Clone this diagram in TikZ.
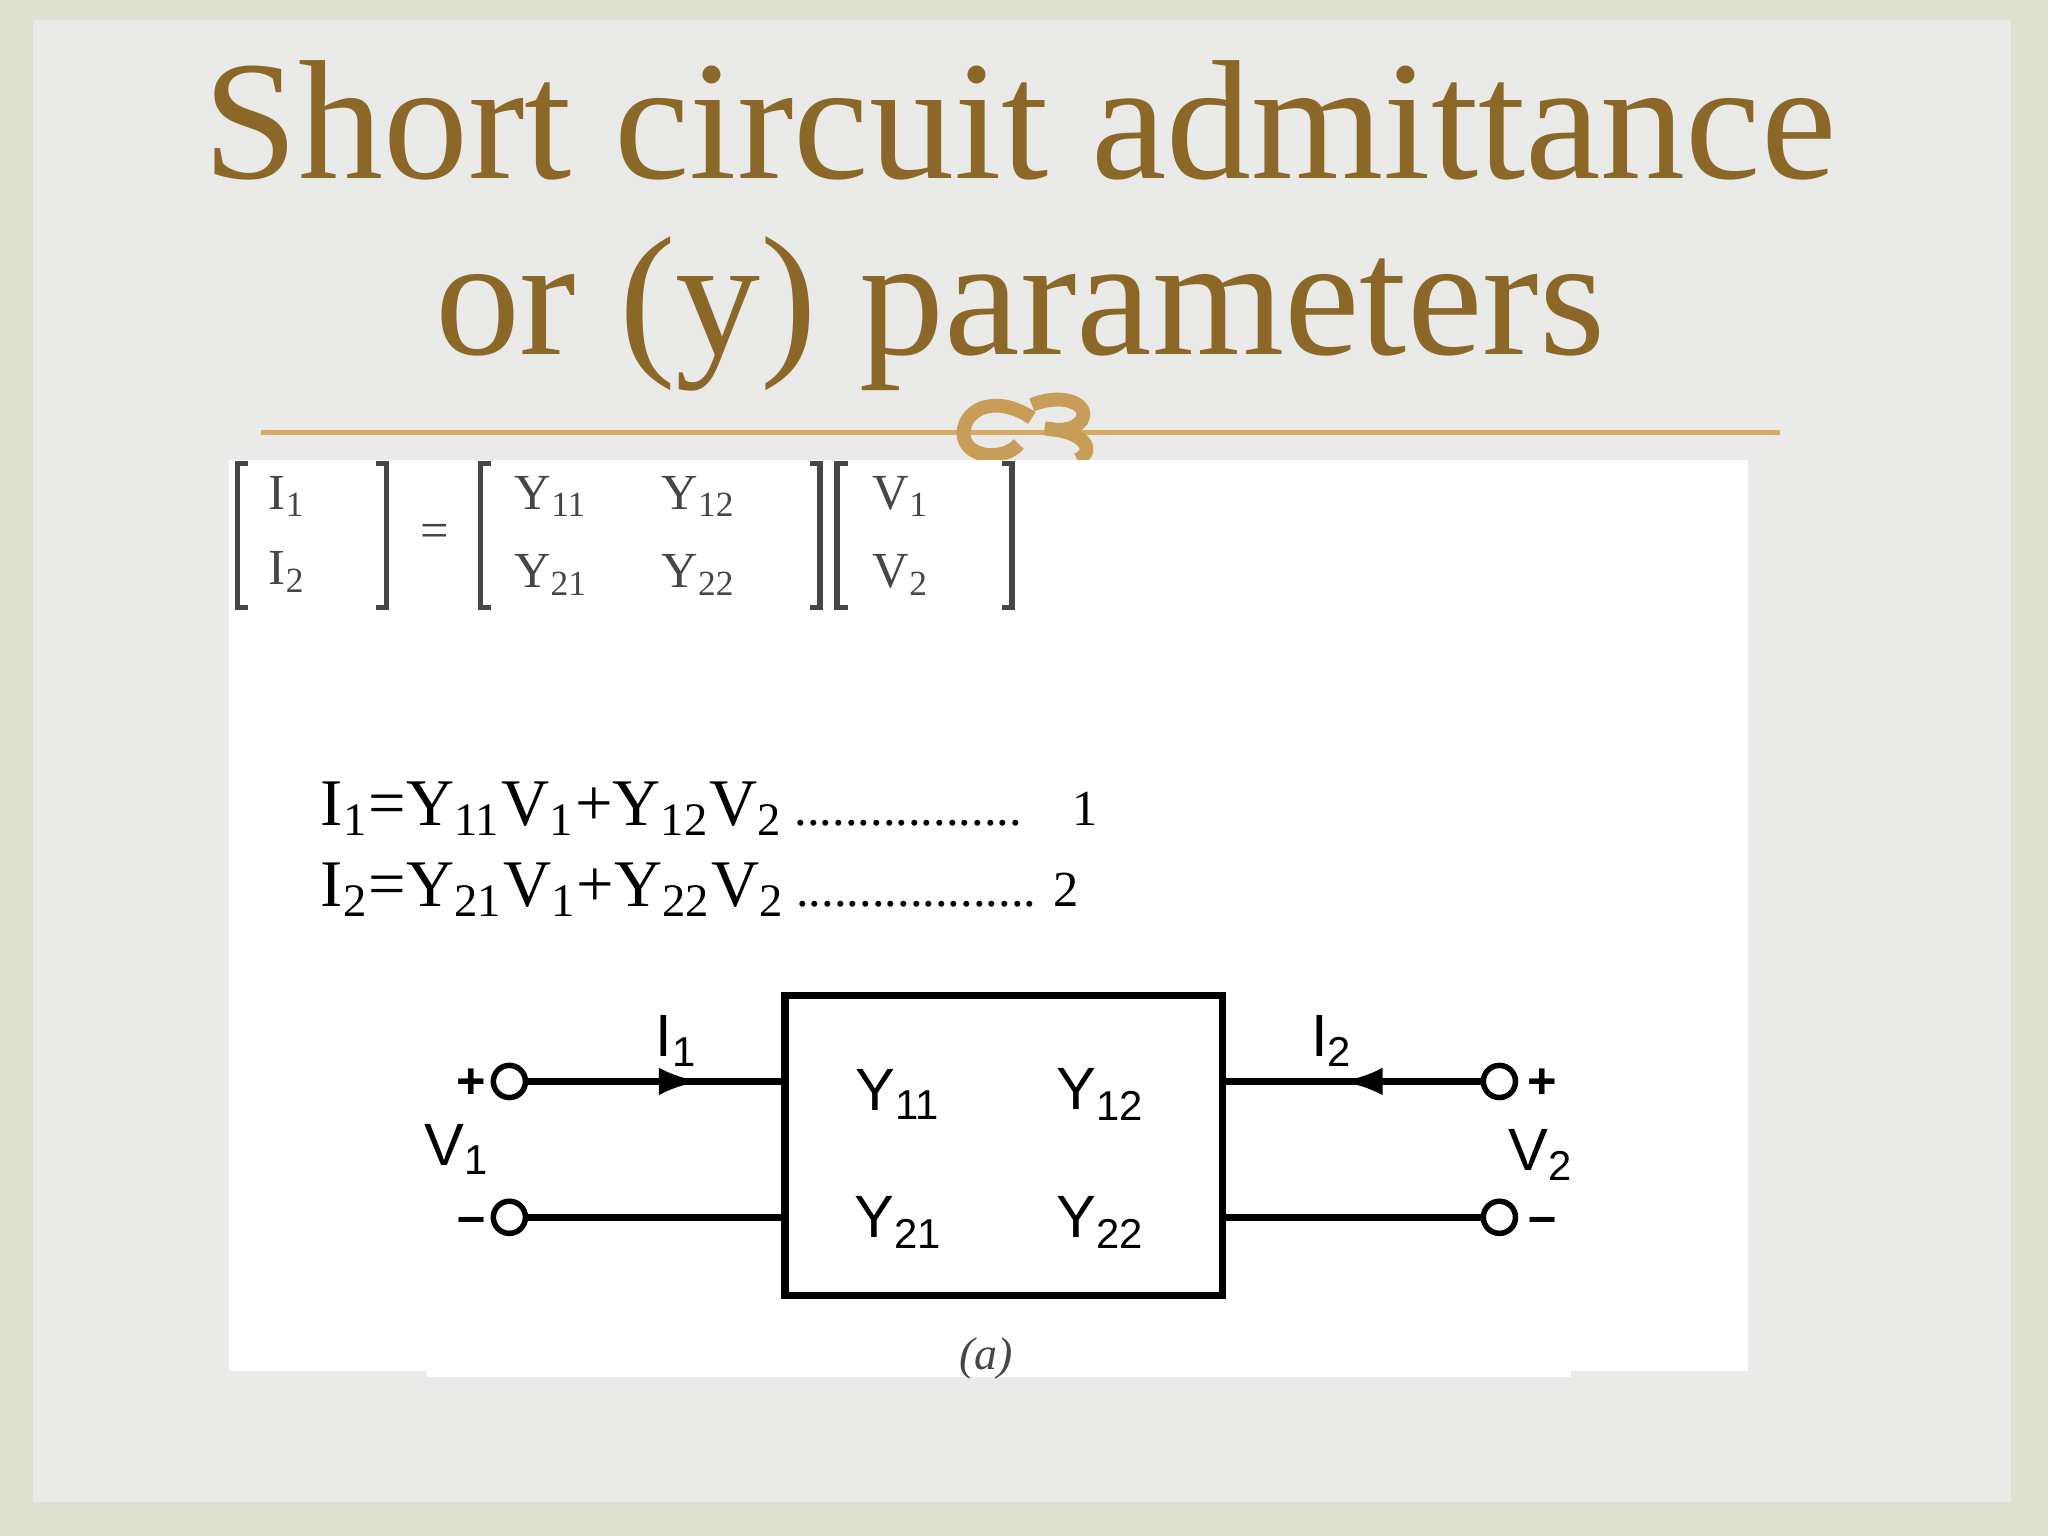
\documentclass[tikz,border=0pt]{standalone}
\usepackage{fontspec}
\setmainfont{Liberation Serif}
\setsansfont{Liberation Sans}
\usetikzlibrary{arrows.meta,decorations.markings}
\definecolor{bgout}{RGB}{222,224,210}
\definecolor{bgin}{RGB}{234,234,232}
\definecolor{gold}{RGB}{140,104,40}
\definecolor{rule}{RGB}{214,170,100}
\definecolor{mat}{RGB}{70,70,70}
\newcommand{\ssb}[1]{\textsubscript{#1}}
\tikzset{
 wire/.style={line width=1.6pt,black},
 term/.style={circle,draw,line width=1.2pt,fill=white,inner sep=0pt,minimum size=7pt},
 clab/.style={font=\sffamily\fontsize{13}{13}\selectfont,inner sep=1pt},
 sgn/.style={font=\sffamily\bfseries\fontsize{11}{11}\selectfont,inner sep=0pt},
 brk/.style={line width=1.2pt,mat},
 mtx/.style={font=\fontsize{11}{11}\selectfont,text=mat},
 eq/.style={font=\fontsize{14.5}{14.5}\selectfont,anchor=base west,inner sep=0pt},
 ttl/.style={font=\fontsize{37}{40}\selectfont,text=gold},
 midarrow/.style={postaction={decorate},decoration={markings,mark=at position #1 with {\arrow{Latex[length=9pt,width=6pt]}}}}
}
\begin{document}
\begin{tikzpicture}[x={(0.01cm,0)},y={(0,-0.01cm)}]
\fill[bgout] (0,0) rectangle (1568,1176);
\fill[bgin] (25,15) rectangle (1540,1150);
\useasboundingbox (0,0) rectangle (1568,1176);
% title
\node[ttl] (t1) at (781,92) {Short circuit admittance};
\node[ttl] (t2) at (781,240) {or (y) parameters};
\draw[rule,line width=1.2pt] (200,331) -- (1363,331);
% ornament
\begin{scope}[rule!80!gold,line width=3pt]
\draw (790,320) .. controls (760,300) and (735,315) .. (738,335) .. controls (742,352) and (770,352) .. (780,340);
\draw (790,310) .. controls (815,300) and (835,310) .. (828,322) .. controls (822,330) and (810,330) .. (800,328)
 .. controls (830,330) and (840,345) .. (825,352);
\end{scope}
% white panel
\fill[white] (175,352) rectangle (1338,1050);
\fill[white] (327,1040) rectangle (1203,1054);
% matrix
\draw[brk] (190,355) -- (182,355) -- (182,465) -- (190,465);
\draw[brk] (288,355) -- (296,355) -- (296,465) -- (288,465);
\draw[brk] (376,355) -- (368,355) -- (368,465) -- (376,465);
\draw[brk] (620,355) -- (628,355) -- (628,465) -- (620,465);
\draw[brk] (649,355) -- (641,355) -- (641,465) -- (649,465);
\draw[brk] (767,355) -- (775,355) -- (775,465) -- (767,465);
\node[mtx] (mi1) at (220,380) {I\ssb{1}};
\node[mtx] (mi2) at (220,438) {I\ssb{2}};
\node[mtx] (meq) at (333,410) {=};
\node[mtx] (m11) at (422,380) {Y\ssb{11}};
\node[mtx] (m12) at (535,380) {Y\ssb{12}};
\node[mtx] (m21) at (422,440) {Y\ssb{21}};
\node[mtx] (m22) at (535,440) {Y\ssb{22}};
\node[mtx] (mv1) at (690,380) {V\ssb{1}};
\node[mtx] (mv2) at (690,440) {V\ssb{2}};
% equations
\node[eq] (e1) at (245,632) {I\ssb{1}=Y\ssb{11}V\ssb{1}+Y\ssb{12}V\ssb{2}\,{\fontsize{11}{11}\selectfont ..................\quad 1}};
\node[eq] (e2) at (245,694) {I\ssb{2}=Y\ssb{21}V\ssb{1}+Y\ssb{22}V\ssb{2}\,{\fontsize{11}{11}\selectfont ................... 2}};
% circuit
\draw[wire] (601,762) rectangle (936,992);
\coordinate (b1) at (601,828); \coordinate (b2) at (601,932);
\coordinate (b3) at (936,828); \coordinate (b4) at (936,932);
\node[term] (l1) at (390,828) {};
\node[term] (l2) at (390,932) {};
\node[term] (r1) at (1148,828) {};
\node[term] (r2) at (1148,932) {};
\draw[wire,midarrow=0.67] (l1) -- (b1);
\draw[wire] (l2) -- (b2);
\draw[wire,midarrow=0.54] (r1) -- (b3);
\draw[wire] (r2) -- (b4);
\node[sgn] (p1) at (361,830) {+};
\node[sgn] (n1) at (361,938) {--};
\node[sgn] (p2) at (1181,830) {+};
\node[sgn] (n2) at (1181,938) {--};
\node[clab] (v1) at (350,880) {V\ssb{1}};
\node[clab] (v2) at (1180,884) {V\ssb{2}};
\node[clab] (i1) at (518,797) {I\ssb{1}};
\node[clab] (i2) at (1020,797) {I\ssb{2}};
\node[clab] (y11) at (688,838) {Y\ssb{11}};
\node[clab] (y12) at (843,838) {Y\ssb{12}};
\node[clab] (y21) at (688,936) {Y\ssb{21}};
\node[clab] (y22) at (843,936) {Y\ssb{22}};
\node[font=\fontsize{10}{10}\selectfont\itshape,text=mat] (cap) at (755,1040) {(a)};
\end{tikzpicture}
\end{document}
